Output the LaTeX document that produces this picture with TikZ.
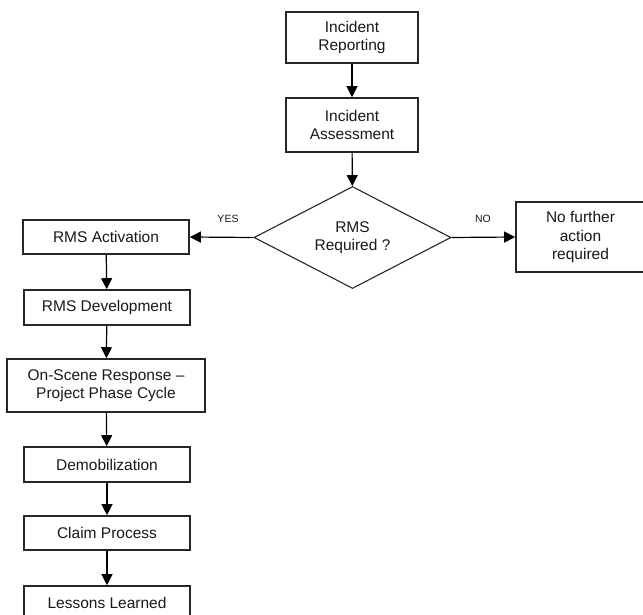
\documentclass[tikz,border=0pt]{standalone}
\usepackage{fontspec}
\setmainfont{Liberation Sans}
\usetikzlibrary{shapes.geometric,arrows.meta}
\begin{document}
\begin{tikzpicture}[x=1pt,y=-1pt,
  every node/.style={font=\fontsize{15.5}{18.5}\selectfont, align=center, inner sep=0pt, text=black!90},
  procbox/.style={draw=black!85, line width=1.6pt, fill=white},
  decision/.style={draw=black!85, line width=1.1pt, shape=diamond, aspect=1.93,
                   minimum width=197pt, minimum height=102pt},
  branch/.style={font=\fontsize{10.5}{12}\selectfont},
  flow/.style={draw=black, line width=1.2pt, -{Triangle[length=11pt,width=11pt]}}]
\useasboundingbox (0,0) rectangle (643,615);
\clip (0,0) rectangle (643,615);

% main column
\node[procbox, minimum width=132pt, minimum height=51pt] (rep) at (352,37.5) {Incident\\Reporting};
\node[procbox, minimum width=132pt, minimum height=54pt] (ass) at (352,125) {Incident\\Assessment};
\node[decision] (dec) at (352.5,237.5) {RMS\\Required ?};

% no branch
\node[procbox, minimum width=129pt, minimum height=70pt] (nof) at (580.5,237) {No further\\action\\required};

% yes branch
\node[procbox, minimum width=166pt, minimum height=34pt] (act) at (106,237) {RMS Activation};
\node[procbox, minimum width=166pt, minimum height=35pt] (dev) at (107,307.5) {RMS Development};
\node[procbox, minimum width=198pt, minimum height=53pt] (ons) at (106,385.5) {On-Scene Response --\\Project Phase Cycle};
\node[procbox, minimum width=166pt, minimum height=35pt] (dem) at (107,464.5) {Demobilization};
\node[procbox, minimum width=166pt, minimum height=34pt] (clm) at (107,533) {Claim Process};
\node[procbox, minimum width=166pt, minimum height=34pt] (les) at (107,603) {Lessons Learned};

% connectors
\draw[flow] (rep) -- (ass);
\draw[flow] (ass) -- (dec);
\draw[flow] (dec.west) -- (act.east);
\draw[flow] (dec.east) -- (nof.west);
\draw[flow] (act) -- (dev);
\draw[flow] (dev) -- (ons);
\draw[flow] (ons) -- (dem);
\draw[flow] (dem) -- (clm);
\draw[flow] (clm) -- (les);

% branch labels
\node[branch] (yes) at (228,219) {YES};
\node[branch] (no) at (483,219) {NO};
\end{tikzpicture}
\end{document}
